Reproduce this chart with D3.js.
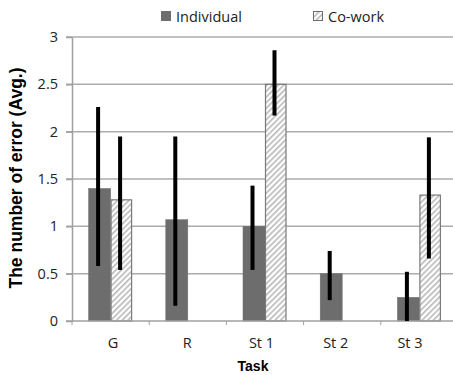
<!DOCTYPE html>
<html>
<head>
<meta charset="utf-8">
<script src="https://cdn.jsdelivr.net/npm/d3@7"></script>
<style>
body { margin: 0; background: #fff; }
</style>
</head>
<body>
<div id="chart"></div>
<script>
var tasks = ["G", "R", "St 1", "St 2", "St 3"];
var series = ["Individual", "Co-work"];
var individual = [1.4, 1.07, 1.0, 0.5, 0.25];
var cowork = [1.28, 0, 2.5, 0, 1.33];
var indLow = [0.58, 0.16, 0.54, 0.22, 0];
var indHigh = [2.26, 1.95, 1.43, 0.74, 0.52];
var coLow = [0.54, null, 2.17, null, 0.66];
var coHigh = [1.95, null, 2.86, null, 1.94];
var yTicks = [0, 0.5, 1, 1.5, 2, 2.5, 3];

var width = 453, height = 375;
var plotLeft = 72, plotRight = 458, plotTop = 37, plotBottom = 321;

var svg = d3.select("#chart").append("svg")
	.attr("width", width)
	.attr("height", height);

var defs = svg.append("defs");
var pat = defs.append("pattern")
	.attr("id", "hatch")
	.attr("patternUnits", "userSpaceOnUse")
	.attr("width", 4)
	.attr("height", 4)
	.attr("patternTransform", "rotate(45)");
pat.append("rect").attr("width", 4).attr("height", 4).attr("fill", "#fff");
pat.append("rect").attr("x", 0).attr("width", 1.6).attr("height", 4).attr("fill", "#b8b8b8");

var x = d3.scaleBand().domain(tasks).range([plotLeft, plotRight]);
var y = d3.scaleLinear().domain([0, 3]).range([plotBottom, plotTop]);
var barW = 22;

// gridlines
svg.append("g")
	.selectAll("line")
	.data(yTicks.slice(1))
	.enter()
	.append("line")
	.attr("x1", plotLeft - 6)
	.attr("x2", width)
	.attr("y1", function(d){return y(d);})
	.attr("y2", function(d){return y(d);})
	.attr("stroke", "#ababab")
	.attr("stroke-width", 1.5);

// y axis
var yAxis = svg.append("g")
	.attr("transform", "translate(" + plotLeft + ",0)")
	.call(d3.axisLeft(y).tickValues(yTicks).tickFormat(function(d){return String(d);}).tickSize(6).tickSizeOuter(0));
yAxis.select(".domain").attr("stroke", "#a0a0a0").attr("stroke-width", 1.5);
yAxis.selectAll(".tick line").attr("stroke", "#a0a0a0").attr("stroke-width", 1.5);
yAxis.selectAll(".tick text")
	.attr("x", -14)
	.attr("font-family", "Open Sans, sans-serif")
	.attr("font-size", 14.5)
	.attr("fill", "#222");

// bars
var groups = svg.append("g").selectAll("g")
	.data(tasks)
	.enter()
	.append("g");

groups.append("rect")
	.attr("x", function(d){return x(d) + x.bandwidth()/2 - barW;})
	.attr("y", function(d,i){return y(individual[i]);})
	.attr("width", barW)
	.attr("height", function(d,i){return y(0) - y(individual[i]);})
	.attr("fill", "#6d6d6d")
	.attr("stroke", "#6d6d6d")
	.attr("stroke-width", 0.5);

groups.filter(function(d,i){return cowork[i] > 0;})
	.append("rect")
	.attr("x", function(d){return x(d) + x.bandwidth()/2 + 0.5;})
	.attr("y", function(d){return y(cowork[tasks.indexOf(d)]);})
	.attr("width", barW - 1.5)
	.attr("height", function(d){return y(0) - y(cowork[tasks.indexOf(d)]);})
	.attr("fill", "url(#hatch)")
	.attr("stroke", "#7a7a7a")
	.attr("stroke-width", 1.2);

// x axis
var xAxis = svg.append("g")
	.attr("transform", "translate(0," + plotBottom + ")");
xAxis.append("line")
	.attr("x1", plotLeft - 6).attr("x2", width)
	.attr("y1", 0).attr("y2", 0)
	.attr("stroke", "#a0a0a0")
	.attr("stroke-width", 1.5);
xAxis.selectAll("line.tk")
	.data(tasks)
	.enter()
	.append("line")
	.attr("class", "tk")
	.attr("x1", function(d){return x(d);})
	.attr("x2", function(d){return x(d);})
	.attr("y1", 0).attr("y2", 4)
	.attr("stroke", "#a0a0a0");
var labelX = d3.scaleLinear().domain([0, tasks.length - 1]).range([113, 410]);
xAxis.selectAll("text")
	.data(tasks)
	.enter()
	.append("text")
	.attr("x", function(d,i){return labelX(i);})
	.attr("y", 27)
	.attr("text-anchor", "middle")
	.attr("font-family", "Open Sans, sans-serif")
	.attr("font-size", 14.5)
	.attr("fill", "#222")
	.text(function(d){return d;});

// error bars
var errs = svg.append("g");
errs.selectAll("line.ind")
	.data(tasks)
	.enter()
	.append("line")
	.attr("class", "ind")
	.attr("x1", function(d){return x(d) + x.bandwidth()/2 - barW/2 - 1.5;})
	.attr("x2", function(d){return x(d) + x.bandwidth()/2 - barW/2 - 1.5;})
	.attr("y1", function(d,i){return y(indLow[i]);})
	.attr("y2", function(d,i){return y(indHigh[i]);})
	.attr("stroke", "#000")
	.attr("stroke-width", 4);
errs.selectAll("line.co")
	.data(tasks.filter(function(d,i){return coHigh[i] !== null;}))
	.enter()
	.append("line")
	.attr("class", "co")
	.attr("x1", function(d){return x(d) + x.bandwidth()/2 + barW/2 - 1.5;})
	.attr("x2", function(d){return x(d) + x.bandwidth()/2 + barW/2 - 1.5;})
	.attr("y1", function(d){return y(coLow[tasks.indexOf(d)]);})
	.attr("y2", function(d){return y(coHigh[tasks.indexOf(d)]);})
	.attr("stroke", "#000")
	.attr("stroke-width", 4);

// legend
var legendX = [161, 313];
var legend = svg.append("g").selectAll("g")
	.data(series)
	.enter()
	.append("g")
	.attr("transform", function(d,i){return "translate(" + legendX[i] + ",11)";});
legend.append("rect")
	.attr("width", function(d,i){return i === 0 ? 10 : 9;})
	.attr("height", function(d,i){return i === 0 ? 10 : 9;})
	.attr("x", function(d,i){return i === 0 ? 0 : 0.5;})
	.attr("y", function(d,i){return i === 0 ? 0 : 0.5;})
	.attr("fill", function(d,i){return i === 0 ? "#6d6d6d" : "url(#hatch)";})
	.attr("stroke", function(d,i){return i === 0 ? "none" : "#6d6d6d";});
legend.append("text")
	.attr("x", 15)
	.attr("y", 10.5)
	.attr("font-family", "Open Sans, sans-serif")
	.attr("font-size", 14.5)
	.attr("fill", "#222")
	.text(function(d){return d;});

// axis titles
svg.append("text")
	.attr("transform", "translate(22,178) rotate(-90)")
	.attr("text-anchor", "middle")
	.attr("font-family", "Liberation Sans, Arial, sans-serif")
	.attr("font-weight", "bold")
	.attr("font-size", 17.5)
	.attr("fill", "#000")
	.text("The number of error (Avg.)");

svg.append("text")
	.attr("x", 253)
	.attr("y", 371)
	.attr("text-anchor", "middle")
	.attr("font-family", "Liberation Sans, Arial, sans-serif")
	.attr("font-weight", "bold")
	.attr("font-size", 14)
	.attr("fill", "#000")
	.text("Task");
</script>
</body>
</html>
